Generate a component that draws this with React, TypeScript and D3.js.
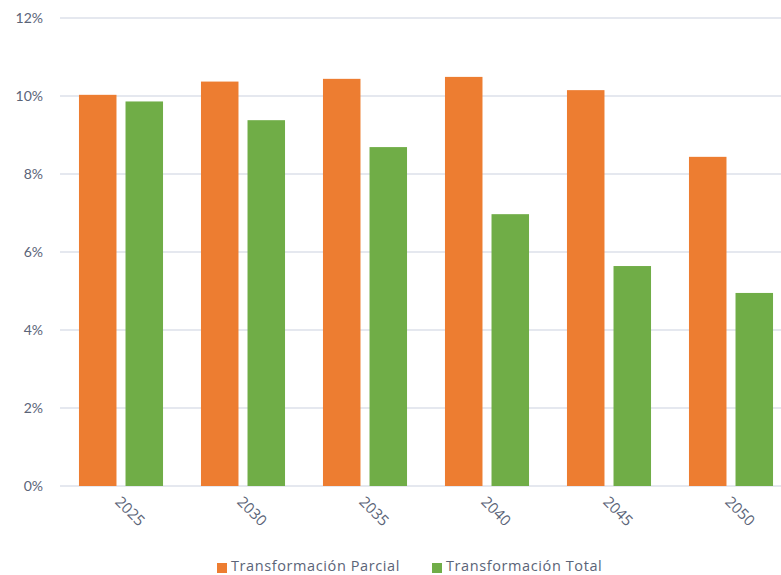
import React from "react";
import * as d3 from "d3";

const years = ["2025", "2030", "2035", "2040", "2045", "2050"];
const seriesNames = ["Transformación Parcial", "Transformación Total"];
const parcial = [10.03, 10.37, 10.44, 10.49, 10.15, 8.44];
const total = [9.86, 9.38, 8.69, 6.97, 5.64, 4.95];
const yTicks = [0, 2, 4, 6, 8, 10, 12];
const colors = ["#ED7D31", "#70AD47"];

const W = 781;
const H = 575;

export default function App() {
  const x0 = d3.scaleBand<string>().domain(years).range([60, 792]).paddingInner(0.311).paddingOuter(0.1555);
  const x1 = d3.scaleBand<string>().domain(seriesNames).range([0, x0.bandwidth()]).paddingInner(0.194);
  const y = d3.scaleLinear().domain([0, 12]).range([486, 18]);
  const data = [parcial, total];
  const font = "Lato, 'Open Sans', sans-serif";
  const font2 = "'Open Sans', sans-serif";
  const textColor = "#5B6478";

  return (
    <svg width={W} height={H} style={{ position: "absolute", left: 0, top: 0, background: "#fff" }}>
      {yTicks.map((t) => (
        <g key={t}>
          <line x1={60} x2={W} y1={y(t)} y2={y(t)} stroke="#DCE1EA" strokeWidth={1.5} />
          <text x={43} y={y(t)} dy="0.35em" textAnchor="end" fontFamily={font} fontSize={14} fill={textColor}>
            {t}%
          </text>
        </g>
      ))}
      {years.map((yr, i) => (
        <g key={yr} transform={`translate(${x0(yr)},0)`}>
          {seriesNames.map((s, j) => (
            <rect
              key={s}
              x={x1(s)}
              y={y(data[j][i])}
              width={x1.bandwidth()}
              height={y(0) - y(data[j][i])}
              fill={colors[j]}
            />
          ))}
        </g>
      ))}
      {years.map((yr) => {
        const cx = (x0(yr) as number) + x0.bandwidth() / 2;
        return (
          <text
            key={yr}
            transform={`translate(${cx - 3},${499}) rotate(45)`}
            textAnchor="start"
            dy="0.35em"
            fontFamily={font2}
            fontSize={15}
            fill={textColor}
          >
            {yr}
          </text>
        );
      })}
      {seriesNames.map((s, j) => {
        const lx = [217, 432][j];
        return (
          <g key={s}>
            <rect x={lx} y={563} width={10} height={10} fill={colors[j]} />
            <text
              x={lx + 14}
              y={566}
              dy="0.35em"
              fontFamily={font2}
              fontSize={14.5}
              letterSpacing={0.6}
              fill={textColor}
            >
              {s}
            </text>
          </g>
        );
      })}
    </svg>
  );
}
